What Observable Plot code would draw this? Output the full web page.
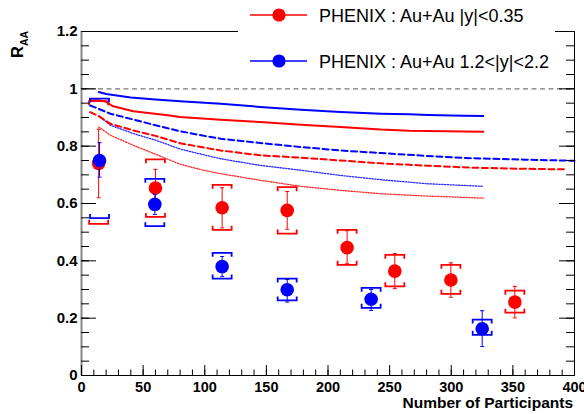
<!DOCTYPE html>
<html><head><meta charset="utf-8">
<script src="https://cdn.jsdelivr.net/npm/d3@7"></script>
<script src="https://cdn.jsdelivr.net/npm/@observablehq/plot@0.6"></script>
<style>body{margin:0;background:#fff;} #chart svg{overflow:hidden}</style>
</head><body><div id="chart"></div>
<script>
// ---- data ----
const redNpart = [13.9, 60.0, 114.1, 166.9, 215.5, 254.2, 299.7, 351.6];
const redRaa   = [0.740, 0.654, 0.585, 0.576, 0.446, 0.364, 0.333, 0.256];
const redStatLo = [0.620, 0.589, 0.515, 0.510, 0.390, 0.303, 0.273, 0.201];
const redStatHi = [0.859, 0.719, 0.655, 0.642, 0.505, 0.425, 0.393, 0.311];
const redSysLo = [0.529, 0.553, 0.508, 0.495, 0.386, 0.311, 0.285, 0.219];
const redSysHi = [0.957, 0.754, 0.665, 0.657, 0.508, 0.421, 0.386, 0.296];

const blueNpart = [14.6, 59.5, 114.1, 166.9, 235.0, 325.1];
const blueRaa   = [0.750, 0.597, 0.380, 0.299, 0.266, 0.163];
const blueStatLo = [0.692, 0.562, 0.345, 0.256, 0.227, 0.101];
const blueStatHi = [0.812, 0.632, 0.415, 0.335, 0.300, 0.226];
const blueSysLo = [0.549, 0.521, 0.338, 0.262, 0.236, 0.142];
const blueSysHi = [0.966, 0.686, 0.428, 0.338, 0.306, 0.195];

const solidBlueX = [14, 20, 40, 60, 80, 113, 145, 178, 210, 243, 266, 281, 310, 326];
const solidBlueY = [0.989, 0.982, 0.970, 0.963, 0.957, 0.948, 0.937, 0.927, 0.919, 0.913, 0.911, 0.909, 0.906, 0.905];
const solidRedX = [7, 14, 20, 25, 42, 70, 80, 113, 145, 178, 210, 243, 266, 326];
const solidRedY = [0.960, 0.960, 0.955, 0.940, 0.922, 0.908, 0.902, 0.892, 0.884, 0.875, 0.867, 0.858, 0.854, 0.850];
const dashBlueX = [7, 14, 23.5, 42, 60, 80, 97, 113, 145, 178, 210, 243, 280, 316, 360, 400];
const dashBlueY = [0.942, 0.930, 0.913, 0.893, 0.873, 0.852, 0.838, 0.826, 0.811, 0.797, 0.785, 0.776, 0.766, 0.758, 0.753, 0.749];
const dashRedX = [7, 14, 23.5, 42, 60, 80, 97, 113, 145, 178, 210, 243, 280, 316, 360, 394];
const dashRedY = [0.919, 0.905, 0.878, 0.855, 0.836, 0.810, 0.797, 0.785, 0.768, 0.760, 0.750, 0.740, 0.732, 0.725, 0.721, 0.719];
const dotBlueX = [14, 23.5, 42, 60, 80, 97, 113, 145, 178, 210, 243, 280, 326];
const dotBlueY = [0.905, 0.873, 0.844, 0.821, 0.790, 0.772, 0.756, 0.733, 0.716, 0.698, 0.683, 0.669, 0.660];
const dotRedX = [14, 23.5, 42, 60, 80, 97, 113, 145, 178, 210, 243, 280, 326];
const dotRedY = [0.867, 0.838, 0.803, 0.772, 0.737, 0.718, 0.704, 0.681, 0.660, 0.646, 0.634, 0.626, 0.619];

const xMajor = [0, 50, 100, 150, 200, 250, 300, 350, 400];
const xMinor = d3.range(0, 401, 10);
const yMajor = [0, 0.2, 0.4, 0.6, 0.8, 1, 1.2];
const yMinor = d3.range(0, 25).map(i => i * 0.05);
const referenceLevel = [1];
const legendLabels = ["PHENIX : Au+Au |y|<0.35", "PHENIX : Au+Au 1.2<|y|<2.2"];

// ---- build tables ----
const pts = (xs, ys, lo, hi, slo, shi) => xs.map((x, i) => ({x, y: ys[i], lo: lo[i], hi: hi[i], slo: slo[i], shi: shi[i]}));
const red = pts(redNpart, redRaa, redStatLo, redStatHi, redSysLo, redSysHi);
const blue = pts(blueNpart, blueRaa, blueStatLo, blueStatHi, blueSysLo, blueSysHi);
const curve = (xs, ys) => xs.map((x, i) => ({x, y: ys[i]}));

const W = 584, H = 414, mL = 81, mR = 10, mT = 31, mB = 39;
const pw = W - mL - mR, ph = H - mT - mB;
const FONT = "'Liberation Sans', Arial, Helvetica, sans-serif";

const bracketTop = {draw(c) { c.moveTo(-9.5, 4); c.lineTo(-9.5, 0); c.lineTo(9.5, 0); c.lineTo(9.5, 4); }};
const bracketBot = {draw(c) { c.moveTo(-9.5, -4); c.lineTo(-9.5, 0); c.lineTo(9.5, 0); c.lineTo(9.5, -4); }};
const cap = {draw(c) { c.moveTo(-2, 0); c.lineTo(2, 0); }};

function seriesMarks(data, color) {
  return [
    Plot.dot(data, {x: "x", y: "shi", symbol: bracketTop, r: 5, fill: "none", stroke: color, strokeWidth: 1.8}),
    Plot.dot(data, {x: "x", y: "slo", symbol: bracketBot, r: 5, fill: "none", stroke: color, strokeWidth: 1.8}),
    Plot.ruleX(data, {x: "x", y1: "lo", y2: "hi", stroke: color, strokeWidth: 1}),
    Plot.dot(data, {x: "x", y: "lo", symbol: cap, r: 2, fill: "none", stroke: color, strokeWidth: 1}),
    Plot.dot(data, {x: "x", y: "hi", symbol: cap, r: 2, fill: "none", stroke: color, strokeWidth: 1}),
    Plot.dot(data, {x: "x", y: "y", r: 6.8, fill: color, stroke: "none"})
  ];
}

const plot = Plot.plot({
  width: W, height: H,
  marginLeft: mL, marginRight: mR, marginTop: mT, marginBottom: mB,
  x: {domain: [0, 400]},
  y: {domain: [0, 1.2]},
  style: {fontFamily: FONT, fontSize: "14px", fontWeight: "bold", background: "white", color: "black"},
  marks: [
    Plot.ruleY(referenceLevel, {stroke: "#777", strokeDasharray: "5,3.5", strokeWidth: 1.2}),
    Plot.line(curve(dotRedX, dotRedY), {x: "x", y: "y", stroke: "#ff0000", strokeWidth: 1.3, strokeDasharray: "1.3,1.5", strokeOpacity: 0.85}),
    Plot.line(curve(dotBlueX, dotBlueY), {x: "x", y: "y", stroke: "#0000ff", strokeWidth: 1.3, strokeDasharray: "1.3,1.5", strokeOpacity: 0.85}),
    Plot.line(curve(dashRedX, dashRedY), {x: "x", y: "y", stroke: "#ff0000", strokeWidth: 2, strokeDasharray: "6,3.5"}),
    Plot.line(curve(dashBlueX, dashBlueY), {x: "x", y: "y", stroke: "#0000ff", strokeWidth: 2, strokeDasharray: "6,3.5"}),
    Plot.line(curve(solidRedX, solidRedY), {x: "x", y: "y", stroke: "#ff0000", strokeWidth: 2}),
    Plot.line(curve(solidBlueX, solidBlueY), {x: "x", y: "y", stroke: "#0000ff", strokeWidth: 2}),
    ...seriesMarks(red, "#ff0000"),
    ...seriesMarks(blue, "#0000ff"),
    Plot.frame({stroke: "black"}),
    Plot.ruleX([0], {stroke: "#888", strokeWidth: 2}),
    Plot.tickX(xMajor, {x: d => d, insetTop: ph - 10, stroke: "black"}),
    Plot.tickX(xMinor, {x: d => d, insetTop: ph - 5.5, stroke: "black"}),
    Plot.tickY(yMajor, {y: d => d, insetRight: pw - 15, stroke: "black"}),
    Plot.tickY(yMinor, {y: d => d, insetRight: pw - 8, stroke: "black"}),
    Plot.tickY(yMajor, {y: d => d, insetLeft: pw - 15, stroke: "black"}),
    Plot.tickY(yMinor, {y: d => d, insetLeft: pw - 8, stroke: "black"}),
    Plot.axisX(xMajor, {tickSize: 0, tickPadding: 6.5, tickFormat: d => String(d), label: null, fontSize: 14.5}),
    Plot.axisY(yMajor, {tickSize: 0, tickPadding: 4, tickFormat: d => String(d), label: null, fontSize: 15})
  ]
});

const svg = d3.select(plot);
// legend
const lg = svg.append("g").attr("font-family", FONT).attr("font-weight", "normal").attr("font-size", 18).attr("text-anchor", "start");
lg.append("rect").attr("x", 238).attr("y", 0).attr("width", 317).attr("height", 80).attr("fill", "white");
const colors = ["#ff0000", "#0000ff"];
[15, 61].forEach((cy, i) => {
  lg.append("line").attr("x1", 250).attr("x2", 307).attr("y1", cy).attr("y2", cy).attr("stroke", colors[i]).attr("stroke-width", 1.3);
  lg.append("circle").attr("cx", 279).attr("cy", cy).attr("r", 6.6).attr("fill", colors[i]);
  lg.append("text").attr("x", 319).attr("y", cy + 6.5).attr("fill", "black").attr("text-anchor", "start").text(legendLabels[i]);
});
// axis titles
svg.append("text").attr("x", 573).attr("y", 408).attr("text-anchor", "end")
  .attr("font-family", FONT).attr("font-weight", "bold").attr("font-size", 15.5)
  .text("Number of Participants");
const yt = svg.append("text").attr("transform", "translate(23,58) rotate(-90)").attr("text-anchor", "start")
  .attr("font-family", FONT).attr("font-weight", "bold").attr("font-size", 16.5);
yt.append("tspan").text("R");
yt.append("tspan").attr("font-size", 10.5).attr("dy", 5).text("AA");

document.getElementById("chart").appendChild(plot);
</script>
</body></html>
